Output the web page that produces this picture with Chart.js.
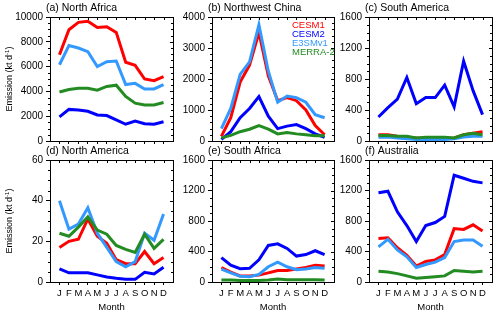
<!DOCTYPE html>
<html><head><meta charset="utf-8">
<script src="https://cdn.jsdelivr.net/npm/chart.js@4/dist/chart.umd.min.js"></script>
<style>
html,body{margin:0;padding:0;background:#fff;}
#wrap{position:relative;width:500px;height:315px;overflow:hidden;}
#wrap canvas{position:absolute;left:0;top:0;}
</style></head><body><div id="wrap"></div>
<script>
const months = ['J','F','M','A','M','J','J','A','S','O','N','D'];
const seriesNames = ['CESM1','CESM2','E3SMv1','MERRA-2'];
const seriesColors = ['#ff0000','#0000ff','#3399ff','#228b22'];

// (a) North Africa
const naCESM1 = [6950, 8970, 9570, 9650, 9160, 9220, 8760, 6350, 6100, 5000, 4860, 5190];
const naCESM2 = [1950, 2550, 2500, 2400, 2100, 2050, 1700, 1350, 1600, 1400, 1350, 1550];
const naE3SM  = [6150, 7700, 7500, 7200, 6000, 6400, 6450, 4550, 4650, 4200, 4200, 4550];
const naMERRA = [3950, 4150, 4250, 4250, 4100, 4400, 4500, 3600, 3050, 2900, 2900, 3100];
// (b) Northwest China
const nwCESM1 = [150, 750, 1900, 2450, 3500, 2100, 1300, 1400, 1300, 1000, 500, 200];
const nwCESM2 = [50, 300, 750, 1050, 1430, 800, 400, 480, 530, 400, 230, 120];
const nwE3SM  = [400, 1050, 2150, 2550, 3750, 2250, 1250, 1450, 1400, 1250, 850, 750];
const nwMERRA = [100, 180, 300, 380, 500, 380, 230, 270, 230, 200, 170, 170];
// (c) South America
const saCESM1 = [80, 80, 60, 50, 40, 30, 30, 30, 40, 80, 100, 120];
const saCESM2 = [310, 430, 540, 820, 480, 560, 560, 720, 440, 1030, 650, 340];
const saE3SM  = [50, 50, 40, 30, 20, 20, 20, 20, 30, 50, 60, 60];
const saMERRA = [70, 70, 60, 60, 40, 50, 50, 50, 40, 80, 100, 80];
// (d) North America
const amCESM1 = [17, 20, 21, 31, 22.5, 19, 11, 9, 9, 15, 9, 12];
const amCESM2 = [6.5, 4.5, 4.5, 4.5, 3.5, 2.5, 1.8, 1.3, 1.3, 4.8, 4, 7.2];
const amE3SM  = [40, 26, 28.5, 36.5, 24, 17, 10, 7.5, 10, 24, 20.5, 33.5];
const amMERRA = [24, 22.5, 27, 32, 25.5, 23.5, 18, 16, 14.5, 23.5, 16.5, 21];
// (e) South Africa
const sfCESM1 = [190, 130, 80, 80, 90, 120, 150, 150, 170, 190, 220, 210];
const sfCESM2 = [320, 220, 175, 180, 290, 480, 500, 440, 340, 360, 410, 360];
const sfE3SM  = [170, 120, 75, 70, 100, 200, 260, 200, 160, 170, 190, 180];
const sfMERRA = [25, 25, 20, 20, 20, 25, 40, 30, 30, 30, 30, 25];
// (f) Australia
const auCESM1 = [570, 580, 450, 350, 210, 270, 290, 360, 700, 690, 750, 670];
const auCESM2 = [1170, 1190, 920, 740, 530, 740, 780, 860, 1400, 1360, 1320, 1300];
const auE3SM  = [460, 560, 420, 330, 190, 230, 260, 320, 530, 550, 550, 470];
const auMERRA = [140, 130, 110, 80, 50, 60, 70, 80, 150, 140, 130, 140];

const yTitle = 'Emission (kt d';
const xTitle = 'Month';

const panels = [
  {title:'(a) North Africa', col:0, row:0, max:10000, step:2000, minor:500, series:[naCESM1,naCESM2,naE3SM,naMERRA]},
  {title:'(b) Northwest China', col:1, row:0, max:4000, step:1000, minor:200, series:[nwCESM1,nwCESM2,nwE3SM,nwMERRA], legend:true},
  {title:'(c) South America', col:2, row:0, max:1600, step:400, minor:100, series:[saCESM1,saCESM2,saE3SM,saMERRA]},
  {title:'(d) North America', col:0, row:1, max:60, step:20, minor:5, series:[amCESM1,amCESM2,amE3SM,amMERRA]},
  {title:'(e) South Africa', col:1, row:1, max:1600, step:400, minor:100, series:[sfCESM1,sfCESM2,sfE3SM,sfMERRA]},
  {title:'(f) Australia', col:2, row:1, max:1600, step:400, minor:100, series:[auCESM1,auCESM2,auE3SM,auMERRA]}
];

const colX = [[50,173],[212,334],[369,492]];
const rowY = [[17,141],[160,282]];
const FONT = "'Liberation Sans', Arial, Helvetica, sans-serif";
const YW = 45, XH = 30;

function framePlugin(p){
  return {
    id:'frame'+p.title,
    afterDraw(chart){
      const ctx = chart.ctx, a = chart.chartArea;
      const xs = chart.scales.x, ys = chart.scales.y;
      ctx.save();
      ctx.strokeStyle = '#000'; ctx.lineWidth = 1;
      ctx.beginPath();
      ctx.moveTo(a.left, a.top+0.5); ctx.lineTo(a.right+0.5, a.top+0.5);
      ctx.moveTo(a.right+0.5, a.top); ctx.lineTo(a.right+0.5, a.bottom);
      // top ticks inward
      for(let i=0;i<months.length;i++){
        const x = Math.round(xs.getPixelForValue(i))+0.5;
        ctx.moveTo(x, a.top); ctx.lineTo(x, a.top+3);
      }
      // y ticks: minor left outward, right inward (major+minor)
      for(let v=0; v<=p.max+1e-9; v+=p.minor){
        const y = Math.round(ys.getPixelForValue(v))+0.5;
        const major = Math.abs(v/p.step - Math.round(v/p.step))<1e-6;
        if(!major){ ctx.moveTo(a.left, y); ctx.lineTo(a.left-2, y); }
        ctx.moveTo(a.right, y); ctx.lineTo(a.right-(major?3:2), y);
      }
      ctx.stroke();
      // panel title
      ctx.fillStyle = '#000';
      ctx.font = '10.5px '+FONT;
      ctx.textAlign = 'left'; ctx.textBaseline = 'middle';
      ctx.fillText(p.title, a.left-4, a.top-9);
      // legend
      if(p.legend){
        ctx.font = '9.5px '+FONT;
        seriesNames.forEach((n,i)=>{
          ctx.fillStyle = seriesColors[i];
          ctx.fillText(n, 292, 25 + i*9);
        });
      }
      // y axis title for left column
      if(p.col===0){
        ctx.save();
        ctx.fillStyle = '#000';
        ctx.translate(10, (a.top+a.bottom)/2);
        ctx.rotate(-Math.PI/2);
        ctx.font = '9px '+FONT;
        const w1 = ctx.measureText(yTitle).width;
        ctx.font = '6px '+FONT;
        const w2 = ctx.measureText('-1').width;
        ctx.font = '9px '+FONT;
        const w3 = ctx.measureText(')').width;
        let x0 = -(w1+w2+w3)/2;
        ctx.textAlign='left'; ctx.textBaseline='middle';
        ctx.fillText(yTitle, x0, 0);
        ctx.font = '6px '+FONT;
        ctx.fillText('-1', x0+w1, -3);
        ctx.font = '9px '+FONT;
        ctx.fillText(')', x0+w1+w2, 0);
        ctx.restore();
      }
      if(p.row===1){
        ctx.fillStyle='#000';
        ctx.font = '9.5px '+FONT;
        ctx.textAlign='center'; ctx.textBaseline='middle';
        ctx.fillText(xTitle, (a.left+a.right)/2, 307);
      }
      ctx.restore();
    }
  };
}

const wrap = document.getElementById('wrap');
panels.forEach(p=>{
  const cv = document.createElement('canvas');
  cv.width = 500; cv.height = 315;
  cv.style.width='500px'; cv.style.height='315px';
  wrap.appendChild(cv);
  const [l,r] = colX[p.col], [t,b] = rowY[p.row];
  const order = [4,3,2,1];
  new Chart(cv, {
    type:'line',
    data:{
      datasets: p.series.map((s,i)=>({
        label: seriesNames[i],
        data: s.map((v,k)=>({x:k, y:v})),
        borderColor: seriesColors[i],
        backgroundColor: seriesColors[i],
        borderWidth: 3,
        pointRadius: 0,
        tension: 0,
        fill: false,
        order: order[i]
      }))
    },
    options:{
      responsive:false, animation:false, devicePixelRatio:1,
      layout:{padding:{left:l-YW, right:500-r, top:t, bottom:315-b-XH}},
      plugins:{legend:{display:false}, tooltip:{enabled:false}, title:{display:false}},
      scales:{
        x:{
          type:'linear', min:-1, max:12,
          afterBuildTicks(s){ s.ticks = months.map((m,i)=>({value:i})); },
          afterFit(s){ s.height = XH; },
          ticks:{ autoSkip:false, maxRotation:0, minRotation:0, padding:3,
            color:'#000', font:{family:FONT, size:9.5},
            callback:(v)=> p.row===1 ? months[v] : '' },
          grid:{ display:true, drawOnChartArea:false, drawTicks:true, tickLength:3, color:'#000', lineWidth:1 },
          border:{ display:true, color:'#000', width:1 }
        },
        y:{
          min:0, max:p.max,
          afterBuildTicks(s){ const arr=[]; for(let v=0; v<=p.max+1e-9; v+=p.step) arr.push({value:v}); s.ticks=arr; },
          afterFit(s){ s.width = YW; },
          ticks:{ padding:3, color:'#000', font:{family:FONT, size:10}, callback:(v)=> String(v) },
          grid:{ display:true, drawOnChartArea:false, drawTicks:true, tickLength:4, color:'#000', lineWidth:1 },
          border:{ display:true, color:'#000', width:1 }
        }
      }
    },
    plugins:[framePlugin(p)]
  });
});
</script></body></html>
